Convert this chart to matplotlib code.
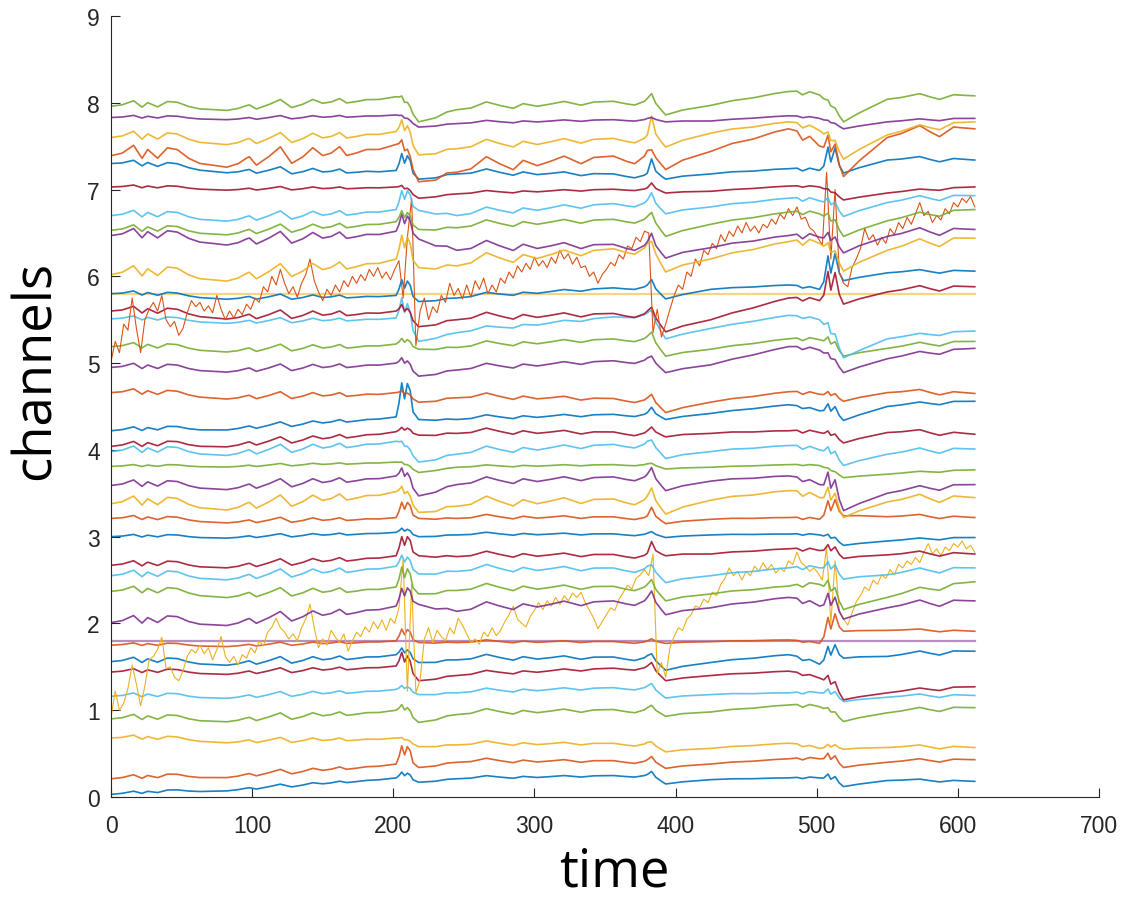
import numpy as np
import matplotlib.pyplot as plt

# MATLAB default colour order, cycled over the channels
colors = ['#0072BD', '#D95319', '#EDB120', '#7E2F8E', '#77AC30', '#4DBEEE', '#A2142F']

# trend level of each channel at these times
anchor_t = [0, 202, 218, 245, 380, 393, 425, 480, 502, 519, 550, 612]
trend = [
    [0.03, 0.22, 0.17, 0.21, 0.26, 0.15, 0.20, 0.22, 0.22, 0.12, 0.19, 0.18],  # 1
    [0.21, 0.38, 0.34, 0.40, 0.43, 0.33, 0.38, 0.44, 0.44, 0.34, 0.40, 0.43],  # 2
    [0.68, 0.68, 0.58, 0.60, 0.63, 0.52, 0.56, 0.62, 0.56, 0.55, 0.57, 0.57],  # 3
    None,                                                                      # 4 flat
    [0.90, 1.00, 0.86, 0.95, 1.03, 0.93, 0.98, 1.06, 1.04, 0.87, 0.97, 1.03],  # 5
    [1.16, 1.24, 1.18, 1.20, 1.28, 1.14, 1.18, 1.20, 1.20, 1.10, 1.15, 1.17],  # 6
    [1.44, 1.51, 1.34, 1.40, 1.51, 1.34, 1.40, 1.45, 1.37, 1.12, 1.20, 1.27],  # 7
    [1.56, 1.64, 1.55, 1.58, 1.63, 1.46, 1.55, 1.64, 1.53, 1.60, 1.62, 1.68],  # 8
    [1.75, 1.80, 1.78, 1.78, 1.80, 1.77, 1.79, 1.81, 1.77, 1.91, 1.92, 1.91],  # 9
    None,                                                                      # 10 noisy
    [2.01, 2.20, 2.22, 2.14, 2.30, 2.10, 2.18, 2.30, 2.20, 2.05, 2.18, 2.26],  # 11
    [2.37, 2.42, 2.34, 2.38, 2.45, 2.26, 2.34, 2.43, 2.45, 2.16, 2.30, 2.48],  # 12
    [2.55, 2.66, 2.57, 2.60, 2.66, 2.47, 2.55, 2.64, 2.64, 2.51, 2.56, 2.64],  # 13
    [2.67, 2.78, 2.78, 2.77, 2.81, 2.78, 2.80, 2.86, 2.84, 2.75, 2.79, 2.80],  # 14
    [3.00, 3.05, 3.00, 3.02, 3.04, 2.99, 3.02, 3.03, 3.02, 2.90, 2.95, 2.99],  # 15
    [3.21, 3.22, 3.21, 3.21, 3.24, 3.15, 3.20, 3.22, 3.20, 3.24, 3.23, 3.22],  # 16
    [3.38, 3.52, 3.28, 3.35, 3.47, 3.26, 3.42, 3.53, 3.45, 3.22, 3.40, 3.45],  # 17
    [3.59, 3.70, 3.47, 3.60, 3.72, 3.53, 3.64, 3.70, 3.60, 3.30, 3.50, 3.60],  # 18
    [3.81, 3.86, 3.74, 3.80, 3.84, 3.78, 3.80, 3.83, 3.82, 3.68, 3.72, 3.77],  # 19
    [3.98, 4.10, 3.86, 3.95, 4.10, 3.90, 3.98, 4.05, 4.00, 3.82, 3.95, 4.01],  # 20
    [4.04, 4.21, 4.17, 4.19, 4.22, 4.15, 4.19, 4.22, 4.20, 4.08, 4.20, 4.18],  # 21
    [4.22, 4.38, 4.35, 4.35, 4.43, 4.35, 4.42, 4.52, 4.45, 4.34, 4.50, 4.56],  # 22
    [4.66, 4.66, 4.55, 4.60, 4.60, 4.43, 4.55, 4.67, 4.64, 4.56, 4.66, 4.65],  # 23
    None,                                                                      # 24 flat
    [4.95, 5.00, 4.85, 4.92, 5.06, 4.89, 4.98, 5.19, 5.15, 4.89, 5.05, 5.17],  # 25
    [5.19, 5.22, 5.16, 5.18, 5.31, 5.08, 5.16, 5.28, 5.27, 5.08, 5.17, 5.25],  # 26
    [5.51, 5.52, 5.25, 5.35, 5.58, 5.28, 5.40, 5.55, 5.50, 5.06, 5.28, 5.37],  # 27
    [5.60, 5.60, 5.42, 5.50, 5.60, 5.36, 5.50, 5.75, 5.72, 5.68, 5.82, 5.88],  # 28
    [5.80, 5.78, 5.71, 5.75, 5.90, 5.74, 5.85, 5.90, 5.85, 5.95, 6.04, 6.06],  # 29
    None,                                                                      # 30 noisy
    [6.02, 6.20, 6.10, 6.12, 6.38, 6.05, 6.20, 6.40, 6.38, 6.06, 6.30, 6.44],  # 31
    [6.47, 6.52, 6.43, 6.30, 6.40, 6.21, 6.33, 6.47, 6.45, 6.27, 6.46, 6.54],  # 32
    [6.53, 6.63, 6.54, 6.56, 6.69, 6.46, 6.60, 6.74, 6.72, 6.46, 6.64, 6.77],  # 33
    [6.70, 6.77, 6.76, 6.70, 6.88, 6.72, 6.80, 6.90, 6.87, 6.69, 6.85, 6.93],  # 34
    [7.03, 7.03, 6.90, 6.95, 7.02, 6.96, 6.98, 7.04, 7.03, 6.88, 6.96, 7.03],  # 35
    [7.30, 7.22, 7.12, 7.18, 7.19, 7.12, 7.18, 7.24, 7.22, 7.19, 7.34, 7.34],  # 36
    [7.39, 7.52, 7.09, 7.20, 7.45, 7.23, 7.44, 7.70, 7.50, 7.15, 7.60, 7.70],  # 37
    [7.60, 7.67, 7.40, 7.47, 7.63, 7.49, 7.65, 7.78, 7.68, 7.35, 7.63, 7.78],  # 38
    [7.83, 7.86, 7.72, 7.76, 7.82, 7.78, 7.79, 7.85, 7.82, 7.70, 7.78, 7.82],  # 39
    [7.96, 8.07, 7.78, 7.92, 8.05, 7.86, 7.97, 8.13, 8.09, 7.78, 8.04, 8.08],  # 40
]

# size of the shared wiggle in each channel
gain = [0.02, 0.03, 0.03, 0, 0.04, 0.03, 0.03, 0.04, 0.02, 0,
        0.06, 0.05, 0.05, 0.04, 0.02, 0.03, 0.07, 0.05, 0.015, 0.05,
        0.04, 0.03, 0.04, 0, 0.04, 0.04, 0.03, 0.05, 0.03, 0,
        0.08, 0.07, 0.05, 0.05, 0.02, 0.04, 0.10, 0.06, 0.02, 0.05]

# spike heights at the three events (t ~ 208, 383, 510)
spike1 = [0.08, 0.22, 0.03, 0, 0.10, 0.06, 0.20, 0.10, 0.14, 0,
          0.20, 0.25, 0.15, 0.22, 0.06, 0.18, 0.12, 0.15, 0.03, 0.06,
          0.06, 0.40, 0.05, 0, 0.10, 0.08, 0.30, 0.12, 0.20, 0,
          0.30, 0.22, 0.15, 0.22, 0.05, 0.22, 0.16, 0.20, 0.03, 0.08]
spike2 = [0.06, 0.06, 0.03, 0, 0.05, 0.06, 0.08, 0.06, 0.03, 0,
          0.12, 0.10, 0.06, 0.14, 0.03, 0.12, 0.14, 0.12, 0.02, 0.06,
          0.06, 0.08, 0.08, 0, 0.06, 0.10, 0.10, 0.10, 0.10, 0,
          0.10, 0.14, 0.10, 0.12, 0.07, 0.18, 0.06, 0.25, 0.02, 0.10]
spike3 = [0.08, 0.10, 0.05, 0, 0.05, 0.08, 0.12, 0.18, 0.25, 0,
          0.20, 0.15, 0.12, 0.10, 0.05, 0.20, 0.20, 0.25, 0.02, 0.10,
          0.06, 0.12, 0.06, 0, 0.06, 0.10, 0.12, 0.35, 0.35, 0,
          0.12, 0.12, 0.10, 0.10, 0.03, 0.28, 0.25, 0.10, 0.02, 0.05]

# shared wiggle and spike shape, read from channel 37
knot_t = [0, 8, 16, 22, 26, 33, 40, 47, 55, 63,
          72, 82, 90, 96, 98, 103, 112, 120, 128, 136,
          143, 150, 156, 162, 167, 174, 181, 190, 202, 204,
          206, 208, 210, 212, 214, 218, 230, 238, 245, 255,
          266, 275, 285, 292, 302, 312, 321, 333, 342, 356,
          365, 371, 378, 380, 383, 386, 390, 393, 405, 425,
          440, 455, 470, 480, 486, 490, 495, 502, 505, 508,
          510, 513, 516, 519, 530, 550, 560, 573, 580, 587,
          597, 605, 612]
wiggle = [0, 0.25, 1.1, -0.45, 0.55, -0.5, 0.65, 0.4, -0.65, -1.3,
          -1.55, -1.85, -1.5, -0.9, -0.75, -1.75, -0.8, 0.25, -1.7, -1.0,
          0.0, -0.95, -0.7, 0.0, -1.05, -0.8, -0.45, -0.5, 0, 0,
          0, 0, 0, 0, 0, 0, -0.3, 0.2, 0, 0.2,
          1.4, 0.45, -0.45, 0.5, -0.3, 0.05, 0.45, -0.65, -0.1, -0.2,
          -0.95, -1.35, -0.6, 0, 0, 0, 0, 0, 0.3, 0,
          0.2, 0, 0.1, 0, 0.3, -0.4, 0.5, 0, 0, 0,
          0, 0, 0, 0, 0.2, 0, 0.3, 1.0, 0.2, -0.5,
          0.45, 0.2, 0]
spike = [0, 0, 0, 0, 0, 0, 0, 0, 0, 0,
         0, 0, 0, 0, 0, 0, 0, 0, 0, 0,
         0, 0, 0, 0, 0, 0, 0, 0, 0, 0.4,
         1.0, 0.55, 1.0, 0.8, 0.2, 0, 0, 0, 0, 0,
         0, 0, 0, 0, 0, 0, 0, 0, 0, 0,
         0, 0, 0, 0, 1.0, 0.3, 0.1, 0, 0, 0,
         0, 0, 0, 0, 0, 0, 0, 0, 0.2, 1.0,
         0.4, 1.0, 0.3, 0, 0, 0, 0, 0, 0, 0,
         0, 0, 0]

# dead channels drawn as flat lines
flat_level = {4: 1.795, 24: 5.80}

# the two noisy channels, sampled every 3 time units
noisy_t = np.arange(0, 613, 3)
ch10_noisy = [
    0.92, 1.22, 1.00, 1.08, 1.25, 1.52, 1.30, 1.05, 1.28, 1.58,
    1.62, 1.70, 1.84, 1.48, 1.50, 1.38, 1.34, 1.45, 1.62, 1.70,
    1.66, 1.75, 1.65, 1.72, 1.58, 1.70, 1.85, 1.62, 1.55, 1.62,
    1.52, 1.64, 1.60, 1.72, 1.66, 1.80, 1.74, 1.90, 1.96, 2.06,
    1.95, 1.90, 1.82, 1.88, 1.80, 1.95, 2.05, 2.22, 1.95, 1.72,
    1.82, 1.75, 1.92, 1.84, 1.78, 1.88, 1.68, 1.80, 1.90, 1.85,
    1.96, 1.90, 2.02, 1.94, 2.04, 1.92, 2.06, 2.00, 2.18, 2.74,
    1.22, 2.45, 1.20, 1.35, 1.82, 1.95, 1.78, 1.92, 1.85, 1.80,
    1.95, 1.88, 2.06, 1.98, 1.88, 1.78, 1.82, 1.76, 1.90, 1.85,
    1.95, 1.86, 1.92, 2.02, 2.10, 2.20, 2.05, 2.00, 1.96, 2.08,
    2.15, 2.24, 2.16, 2.26, 2.20, 2.30, 2.22, 2.32, 2.26, 2.35,
    2.30, 2.36, 2.24, 2.15, 2.06, 1.94, 2.02, 2.10, 2.18, 2.15,
    2.28, 2.36, 2.44, 2.40, 2.52, 2.56, 2.62, 2.55, 2.80, 1.42,
    1.55, 1.38, 1.72, 1.85, 1.95, 1.92, 2.05, 2.10, 2.20, 2.18,
    2.28, 2.24, 2.36, 2.32, 2.45, 2.52, 2.64, 2.55, 2.60, 2.50,
    2.60, 2.55, 2.66, 2.60, 2.70, 2.62, 2.68, 2.58, 2.64, 2.60,
    2.72, 2.68, 2.82, 2.70, 2.66, 2.60, 2.64, 2.58, 2.50, 2.88,
    2.00, 2.72, 2.15, 2.05, 1.98, 2.12, 2.25, 2.32, 2.42, 2.38,
    2.50, 2.45, 2.56, 2.52, 2.62, 2.56, 2.68, 2.64, 2.72, 2.68,
    2.76, 2.70, 2.82, 2.92, 2.80, 2.86, 2.78, 2.88, 2.84, 2.92,
    2.88, 2.95, 2.86, 2.90, 2.82]
ch30_noisy = [
    5.02, 5.25, 5.12, 5.45, 5.38, 5.75, 5.40, 5.12, 5.50, 5.62,
    5.70, 5.60, 5.78, 5.50, 5.42, 5.48, 5.32, 5.40, 5.58, 5.72,
    5.65, 5.70, 5.60, 5.66, 5.58, 5.78, 5.62, 5.50, 5.60, 5.52,
    5.62, 5.56, 5.68, 5.62, 5.75, 5.70, 5.88, 5.82, 6.00, 5.90,
    6.08, 5.92, 5.80, 5.88, 5.76, 5.92, 6.02, 6.20, 5.95, 5.82,
    5.72, 5.85, 5.78, 5.90, 5.82, 5.95, 5.88, 6.00, 5.92, 6.02,
    5.95, 6.08, 6.00, 6.10, 5.98, 6.05, 5.96, 6.08, 6.18, 5.75,
    6.45, 6.90, 5.20, 5.60, 5.75, 5.50, 5.65, 5.58, 5.78, 5.70,
    5.92, 5.78, 5.86, 5.74, 5.90, 5.76, 5.95, 5.85, 5.98, 5.80,
    5.90, 5.82, 5.98, 5.92, 6.05, 5.98, 6.12, 6.05, 6.15, 6.08,
    6.22, 6.12, 6.18, 6.10, 6.22, 6.15, 6.30, 6.20, 6.26, 6.14,
    6.22, 6.10, 6.12, 6.00, 6.05, 5.92, 6.02, 6.08, 6.16, 6.12,
    6.25, 6.20, 6.35, 6.32, 6.45, 6.40, 6.52, 6.50, 5.35, 5.62,
    5.30, 5.45, 5.62, 5.78, 5.90, 5.85, 6.05, 6.00, 6.20, 6.12,
    6.30, 6.25, 6.38, 6.32, 6.48, 6.40, 6.52, 6.46, 6.58, 6.50,
    6.62, 6.52, 6.58, 6.50, 6.60, 6.56, 6.66, 6.60, 6.72, 6.66,
    6.78, 6.70, 6.80, 6.66, 6.68, 6.56, 6.52, 6.44, 6.36, 7.20,
    6.20, 7.00, 6.05, 5.92, 5.88, 6.10, 6.20, 6.32, 6.55, 6.42,
    6.48, 6.36, 6.45, 6.38, 6.55, 6.48, 6.62, 6.55, 6.68, 6.60,
    6.72, 6.85, 6.70, 6.75, 6.62, 6.70, 6.65, 6.78, 6.72, 6.85,
    6.80, 6.90, 6.85, 6.92, 6.80]

fig = plt.figure(figsize=(11.29, 9.03), dpi=100)
ax = fig.add_axes([111 / 1129, 105 / 903, 988 / 1129, 781 / 903])

t = np.array(knot_t, dtype=float)
W = np.array(wiggle)
S = np.array(spike)

for i in range(40):
    ch = i + 1
    c = colors[i % 7]
    if ch in flat_level:
        ax.plot([0, 612], [flat_level[ch]] * 2, color=c, lw=1.6, alpha=0.55)
    elif ch == 10:
        ax.plot(noisy_t, ch10_noisy, color=c, lw=0.8)
    elif ch == 30:
        ax.plot(noisy_t, ch30_noisy, color=c, lw=0.8)
    else:
        base = np.interp(t, anchor_t, trend[i])
        amp = np.where(t < 300, spike1[i], np.where(t < 450, spike2[i], spike3[i]))
        y = base + gain[i] * W + amp * S
        ax.plot(t, y, color=c, lw=1.2, alpha=0.9)

ax.set_xlim(0, 700)
ax.set_ylim(0, 9)
ax.set_xticks(range(0, 701, 100))
ax.set_yticks(range(0, 10))
for side in ['top', 'right']:
    ax.spines[side].set_visible(False)
for side in ['left', 'bottom']:
    ax.spines[side].set_color('#262626')
    ax.spines[side].set_linewidth(0.8)
ax.tick_params(direction='in', length=6.5, width=0.8, color='#262626',
               labelcolor='#262626', labelsize=16.5, pad=8)
ax.tick_params(axis='x', pad=12)
for lab in ax.get_xticklabels() + ax.get_yticklabels():
    lab.set_family('Liberation Sans')

fig.text(614 / 1129, 3 / 903, 'time', fontsize=38, family='Open Sans',
         ha='center', va='bottom')
fig.text(63 / 1129, 1 - 370 / 903, 'channels', fontsize=38, family='Open Sans',
         rotation=90, ha='right', va='center')

fig.savefig('out.png', dpi=100)
